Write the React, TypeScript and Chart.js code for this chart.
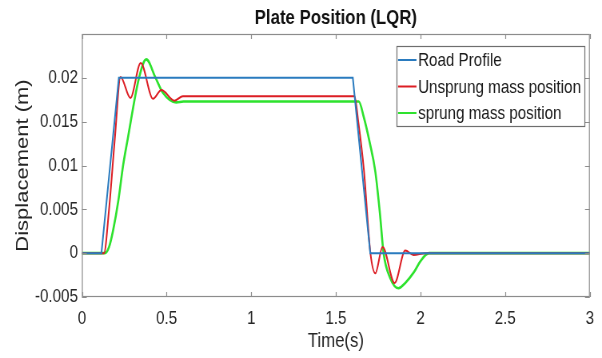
import React, { useEffect, useRef } from 'react';
import { Chart, registerables } from 'chart.js';

Chart.register(...registerables);

const chartTitle = 'Plate Position (LQR)';
const xAxisTitle = 'Time(s)';
const yAxisTitle = 'Displacement (m)';

const xTicks = [0, 0.5, 1, 1.5, 2, 2.5, 3];
const xTickLabels = ['0', '0.5', '1', '1.5', '2', '2.5', '3'];
const yTicks = [-0.005, 0, 0.005, 0.01, 0.015, 0.02];
const yTickLabels = ['-0.005', '0', '0.005', '0.01', '0.015', '0.02'];

const seriesNames = ['Road Profile', 'Unsprung mass position', 'sprung mass position'];

const roadTime = [0, 0.115, 0.218, 1.6, 1.703, 3];
const roadValue = [0, 0, 0.02, 0.02, 0, 0];

const unsprungTime = [0, 0.13, 0.16, 0.194, 0.228, 0.286, 0.347, 0.42, 0.469, 0.547, 0.596, 1.61, 1.631, 1.665, 1.704, 1.733, 1.776, 1.847, 1.91, 1.959, 2.03, 3];
const unsprungValue = [0, 0, 0.005, 0.013, 0.0201, 0.0177, 0.0217, 0.0176, 0.0186, 0.0174, 0.0179, 0.0179, 0.0152, 0.0096, 0, -0.0023, 0.0007, -0.0034, 0.0003, -0.0002, 0, 0];

const sprungTime = [0, 0.135, 0.16, 0.184, 0.215, 0.243, 0.27, 0.337, 0.38, 0.435, 0.478, 0.557, 0.6, 1.635, 1.665, 1.7, 1.733, 1.76, 1.782, 1.82, 1.87, 1.91, 1.96, 2.0, 2.05, 3];
const sprungValue = [0, 0, 0.0007, 0.0026, 0.006, 0.01, 0.013, 0.02, 0.0221, 0.02, 0.0183, 0.0172, 0.0173, 0.0173, 0.0155, 0.0126, 0.0093, 0.0046, 0, -0.0028, -0.004, -0.0034, -0.0022, -0.0009, 0, 0];

// The reference figure is horizontally condensed; the canvas is drawn wider and shown at 602px.
const VIEW_W = 602;
const VIEW_H = 358;
const SX = 0.8;
const CANVAS_W = Math.round(VIEW_W / SX);

const FONT = '"Liberation Sans", Arial, Helvetica, sans-serif';

const toPoints = (xs: number[], ys: number[]) => xs.map((x, i) => ({ x, y: ys[i] }));

const framePlugin = {
  id: 'matlabFrame',
  afterDatasetsDraw(chart: any) {
    const { ctx, chartArea: a, scales } = chart;
    ctx.save();
    ctx.strokeStyle = '#8c8c8c';
    ctx.lineWidth = 1.2;
    ctx.strokeRect(a.left + 0.5, a.top + 0.5, a.right - a.left - 1, a.bottom - a.top - 1);
    const tlV = 5;
    const tlH = 6;
    ctx.beginPath();
    xTicks.forEach((v) => {
      const px = Math.round(scales.x.getPixelForValue(v)) + 0.5;
      ctx.moveTo(px, a.bottom);
      ctx.lineTo(px, a.bottom - tlV);
      ctx.moveTo(px, a.top);
      ctx.lineTo(px, a.top + tlV);
    });
    yTicks.forEach((v) => {
      const py = Math.round(scales.y.getPixelForValue(v)) + 0.5;
      ctx.moveTo(a.left, py);
      ctx.lineTo(a.left + tlH, py);
      ctx.moveTo(a.right, py);
      ctx.lineTo(a.right - tlH, py);
    });
    ctx.stroke();
    ctx.restore();
  },
};

const legendPlugin = {
  id: 'insideLegend',
  afterDraw(chart: any) {
    const { ctx, chartArea: a } = chart;
    const ds = chart.data.datasets;
    ctx.save();
    ctx.font = `19px ${FONT}`;
    let maxW = 0;
    ds.forEach((d: any) => {
      maxW = Math.max(maxW, ctx.measureText(d.label).width);
    });
    const textOffset = 27;
    const boxW = textOffset + maxW + 4;
    const right = a.right - 7;
    const left = right - boxW;
    const top = a.top + 12;
    const rowH = 26.5;
    const boxH = 80;
    ctx.fillStyle = '#ffffff';
    ctx.fillRect(left, top, boxW, boxH);
    ctx.strokeStyle = '#6e6e6e';
    ctx.lineWidth = 1.2;
    ctx.strokeRect(Math.round(left) + 0.5, Math.round(top) + 0.5, Math.round(boxW), boxH);
    ds.forEach((d: any, i: number) => {
      const cy = top + 14 + i * rowH;
      ctx.strokeStyle = d.borderColor;
      ctx.lineWidth = 2;
      ctx.beginPath();
      ctx.moveTo(left + 2, cy);
      ctx.lineTo(left + 25, cy);
      ctx.stroke();
      ctx.fillStyle = '#1a1a1a';
      ctx.textBaseline = 'middle';
      ctx.textAlign = 'left';
      ctx.fillText(d.label, left + textOffset, cy + 1);
    });
    ctx.restore();
  },
};

export default function App() {
  const canvasRef = useRef<HTMLCanvasElement | null>(null);

  useEffect(() => {
    document.body.style.margin = '0';
    const canvas = canvasRef.current;
    if (!canvas) return;
    const chart = new Chart(canvas, {
      type: 'line',
      data: {
        datasets: [
          {
            label: seriesNames[0],
            data: toPoints(roadTime, roadValue),
            borderColor: '#2a7bbf',
            borderWidth: 2,
            pointRadius: 0,
            tension: 0,
          },
          {
            label: seriesNames[1],
            data: toPoints(unsprungTime, unsprungValue),
            borderColor: '#dc1e24',
            borderWidth: 2,
            pointRadius: 0,
            cubicInterpolationMode: 'monotone',
          },
          {
            label: seriesNames[2],
            data: toPoints(sprungTime, sprungValue),
            borderColor: '#2ee22e',
            borderWidth: 2.6,
            pointRadius: 0,
            cubicInterpolationMode: 'monotone',
          },
        ],
      },
      options: {
        responsive: false,
        animation: false,
        devicePixelRatio: 1,
        layout: { padding: { left: 0, right: CANVAS_W - 740, top: 0, bottom: 0 } },
        plugins: {
          legend: { display: false },
          title: { display: false },
          tooltip: { enabled: false },
        },
        scales: {
          x: {
            type: 'linear',
            position: 'bottom',
            min: 0,
            max: 3,
            afterBuildTicks: (s: any) => {
              s.ticks = xTicks.map((v) => ({ value: v }));
            },
            afterFit: (s: any) => {
              s.height = 61;
            },
            grid: { display: false, drawTicks: false },
            border: { display: false },
            ticks: {
              padding: 10,
              color: '#262626',
              maxRotation: 0,
              autoSkip: false,
              font: { family: FONT, size: 19 },
              callback: (v: any) => xTickLabels[xTicks.indexOf(Number(v))],
            },
            title: {
              display: true,
              text: xAxisTitle,
              color: '#262626',
              font: { family: FONT, size: 21 },
              padding: { top: 0, bottom: 4 },
            },
          },
          xTop: {
            type: 'linear',
            position: 'top',
            min: 0,
            max: 3,
            afterFit: (s: any) => {
              s.height = 34;
            },
            grid: { display: false, drawTicks: false },
            border: { display: false },
            ticks: { display: false },
            title: {
              display: true,
              text: chartTitle,
              color: '#111111',
              font: { family: FONT, size: 21, weight: 'bold', lineHeight: 1 },
              padding: { top: 8, bottom: 0 },
            },
          },
          y: {
            type: 'linear',
            position: 'left',
            min: -0.005,
            max: 0.025,
            afterBuildTicks: (s: any) => {
              s.ticks = yTicks.map((v) => ({ value: v }));
            },
            afterFit: (s: any) => {
              s.width = 102.5;
            },
            grid: { display: false, drawTicks: false },
            border: { display: false },
            ticks: {
              padding: 5,
              color: '#262626',
              autoSkip: false,
              font: { family: FONT, size: 19 },
              callback: (v: any) => {
                const idx = yTicks.findIndex((t) => Math.abs(t - Number(v)) < 1e-9);
                return idx >= 0 ? yTickLabels[idx] : '';
              },
            },
            title: {
              display: true,
              text: yAxisTitle,
              color: '#262626',
              font: { family: FONT, size: 22 },
              padding: { top: 16, bottom: 0 },
            },
          },
        },
      } as any,
      plugins: [framePlugin, legendPlugin],
    });
    return () => {
      chart.destroy();
    };
  }, []);

  return (
    <div style={{ width: VIEW_W, height: VIEW_H, background: '#ffffff' }}>
      <canvas
        ref={canvasRef}
        width={CANVAS_W}
        height={VIEW_H}
        style={{ display: 'block', width: `${VIEW_W}px`, height: `${VIEW_H}px` }}
      />
    </div>
  );
}
